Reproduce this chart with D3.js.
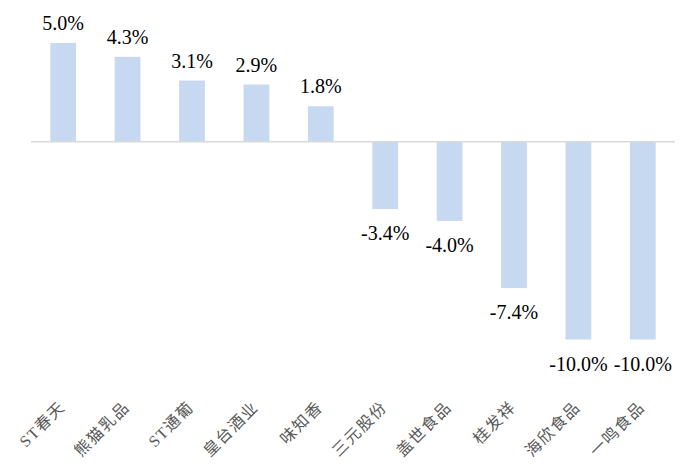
<!DOCTYPE html>
<html><head><meta charset="utf-8">
<script src="https://cdn.jsdelivr.net/npm/d3@7"></script>
<style>body{margin:0;background:#fff}</style>
</head><body>
<svg id="c" width="698" height="474"></svg>
<script>
const categories = ["ST春天","熊猫乳品","ST通葡","皇台酒业","味知香","三元股份","盖世食品","桂发祥","海欣食品","一鸣食品"];
const values = [5.0, 4.3, 3.1, 2.9, 1.8, -3.4, -4.0, -7.4, -10.0, -10.0];

const svg = d3.select("#c");
const x = d3.scaleBand().domain(categories).range([31, 675]).paddingInner(0.6).paddingOuter(0.3);
const y = d3.scaleLinear().domain([-10, 5]).range([339.5, 43]);

svg.append("g").selectAll("rect").data(values).join("rect")
  .attr("x", (d,i) => x(categories[i]))
  .attr("width", x.bandwidth())
  .attr("y", d => y(Math.max(0,d)))
  .attr("height", d => Math.abs(y(d) - y(0)))
  .attr("fill", "#c6d9f1");

svg.append("line").attr("x1", 31).attr("x2", 675).attr("y1", y(0)).attr("y2", y(0))
  .attr("stroke", "#d9d9d9").attr("stroke-width", 1.5);

svg.append("g").selectAll("text").data(values).join("text")
  .attr("x", (d,i) => x(categories[i]) + x.bandwidth()/2)
  .attr("y", d => d >= 0 ? y(d) - 13 : y(d) + 31)
  .attr("text-anchor", "middle")
  .attr("font-family", "'Times New Roman','Liberation Serif',serif")
  .attr("font-size", 20)
  .attr("fill", "#000")
  .text(d => d.toFixed(1) + "%");

svg.append("g").selectAll("text").data(categories).join("text")
  .attr("transform", d => `translate(${x(d) + x.bandwidth()/2 + 3},408) rotate(-45)`)
  .attr("text-anchor", "end")
  .attr("font-family", "'Times New Roman','Liberation Serif','Noto Sans CJK SC',serif")
  .attr("font-size", 16)
  .attr("letter-spacing", 1.5)
  .attr("fill", "#595959")
  .text(d => d);
</script>
</body></html>
